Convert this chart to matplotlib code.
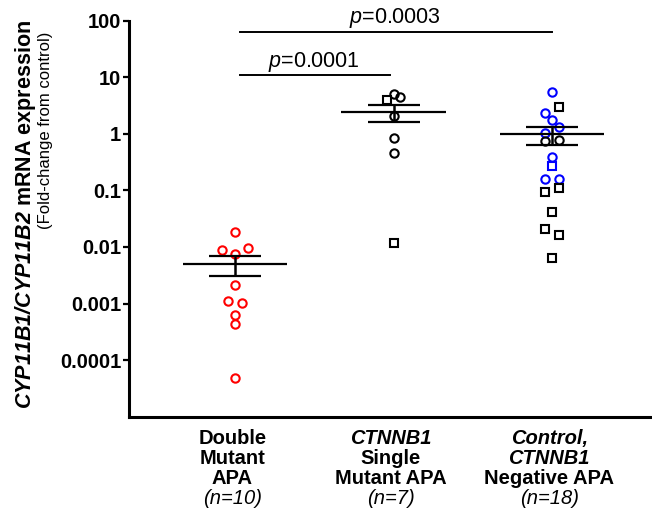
import numpy as np
import matplotlib
matplotlib.use("Agg")
import matplotlib.pyplot as plt
from matplotlib.ticker import NullLocator
import matplotlib.transforms as mtransforms

plt.rcParams['font.family'] = ['Liberation Sans', 'DejaVu Sans']
plt.rcParams['mathtext.fontset'] = 'custom'
plt.rcParams['mathtext.rm'] = 'Liberation Sans'
plt.rcParams['mathtext.it'] = 'Liberation Sans:italic'
plt.rcParams['mathtext.bf'] = 'Liberation Sans:bold'
plt.rcParams['mathtext.bfit'] = 'Liberation Sans:italic:bold'

# fold-change values
double_mut = [0.0181, 0.00881, 0.00740, 0.00944, 0.00212, 0.00112, 0.00101,
              0.000627, 0.000429, 0.0000477]
single_sq = [3.94, 0.0116]
single_circ = [5.02, 4.51, 2.05, 0.83, 0.461]
neg_blue_circ = [5.45, 2.29, 1.75, 1.04, 1.30, 0.383, 0.156, 0.156]
neg_black_circ = [0.734, 0.774]
neg_blue_sq = [0.269]
neg_black_sq = [2.93, 0.0922, 0.108, 0.0419, 0.0205, 0.0162, 0.0063]

yticks = [1e-4, 1e-3, 1e-2, 1e-1, 1, 10, 100]
ytick_labels = ['0.0001', '0.001', '0.01', '0.1', '1', '10', '100']

group_lines = [
    [("Double", 'bold', 'normal'), ("Mutant", 'bold', 'normal'),
     ("APA", 'bold', 'normal'), ("(n=10)", 'normal', 'italic')],
    [("CTNNB1", 'bold', 'italic'), ("Single", 'bold', 'normal'),
     ("Mutant APA", 'bold', 'normal'), ("(n=7)", 'normal', 'italic')],
    [("Control,", 'bold', 'italic'), ("CTNNB1", 'bold', 'italic'),
     ("Negative APA", 'bold', 'normal'), ("(n=18)", 'normal', 'italic')],
]


def swarm_offsets(vals, w=0.177, anchor=0.145, step=0.085):
    # GraphPad-like: bin points by height, spread each bin sideways
    vals = np.asarray(vals)
    k = np.floor((anchor - np.log10(vals)) / w)
    off = np.zeros(len(vals))
    for b in np.unique(k):
        idx = np.where(k == b)[0]
        off[idx] = (np.arange(len(idx)) - (len(idx) - 1) / 2) * step
    return off


fig = plt.figure(figsize=(6.52, 5.25), dpi=100)
ax = fig.add_axes([129 / 652, 1 - 416.7 / 525, 1 - 129 / 652, (416.7 - 20.5) / 525])

ms, mew = 6, 1.5
RED, BLUE = '#ff0000', '#0000ff'

# group 1
off = swarm_offsets(double_mut)
ax.plot(0 + off, double_mut, 'o', ms=ms, mew=mew, mfc='none', mec=RED, zorder=2)

# group 2
g2 = single_sq + single_circ
off = swarm_offsets(g2)
n = len(single_sq)
ax.plot(1 + off[:n], single_sq, 's', ms=ms, mew=mew, mfc='none', mec='black', zorder=2)
ax.plot(1 + off[n:], single_circ, 'o', ms=ms, mew=mew, mfc='none', mec='black', zorder=2)

# group 3
series3 = [(neg_blue_circ, 'o', BLUE), (neg_black_circ, 'o', 'black'),
           (neg_blue_sq, 's', BLUE), (neg_black_sq, 's', 'black')]
g3 = sum([s[0] for s in series3], [])
off = swarm_offsets(g3)
i = 0
for vals, mk, col in series3:
    ax.plot(2 + off[i:i + len(vals)], vals, mk, ms=ms, mew=mew, mfc='none', mec=col, zorder=2)
    i += len(vals)

# mean +/- SEM
for x, vals in enumerate([double_mut, g2, g3]):
    v = np.asarray(vals)
    m = v.mean()
    sem = v.std(ddof=1) / np.sqrt(len(v))
    ax.hlines(m, x - 0.331, x + 0.331, color='black', lw=1.6, zorder=3)
    ax.errorbar(x, m, yerr=sem, fmt='none', ecolor='black', elinewidth=1.8,
                capsize=19, capthick=1.6, zorder=3)

ax.set_yscale('log')
ax.set_ylim(1e-5, 100)
ax.set_xlim(-0.669, 2.631)
ax.set_yticks(yticks)
ax.set_yticklabels(ytick_labels, fontsize=14.5, fontweight='bold')
ax.yaxis.set_minor_locator(NullLocator())
ax.set_xticks([])
ax.tick_params(axis='y', length=4, width=1.6, pad=1.5)
for s in ['top', 'right']:
    ax.spines[s].set_visible(False)
for s in ['left', 'bottom']:
    ax.spines[s].set_linewidth(2.2)

# significance bars
ax.plot([0.03, 2.0], [63.4, 63.4], color='black', lw=1.4, clip_on=False)
ax.plot([0.03, 0.98], [10.8, 10.8], color='black', lw=1.4, clip_on=False)
ax.text(1.01, 91.5, r'$\mathit{p}$=0.0003', fontsize=15.5, ha='center', va='baseline', clip_on=False)
ax.text(0.5, 15.3, r'$\mathit{p}$=0.0001', fontsize=15.5, ha='center', va='baseline', clip_on=False)

# group labels below the axis
trans = mtransforms.blended_transform_factory(ax.transData, ax.transAxes)
for x, lines in enumerate(group_lines):
    for j, (txt, wt, st) in enumerate(lines):
        ax.annotate(txt, xy=(x, 0), xycoords=trans, xytext=(-2, -20 - 14.2 * j),
                    textcoords='offset points', ha='center', va='baseline',
                    fontsize=14.5, fontweight=wt, fontstyle=st, annotation_clip=False)

# y axis title
fig.text(26 / 652, 1 - 214 / 525,
         r'$\mathbfit{CYP11B1/CYP11B2}\ \mathbf{mRNA\ expression}$',
         rotation=90, ha='center', va='center', fontsize=15.5)
fig.text(46 / 652, 1 - 130 / 525, '(Fold-change from control)',
         rotation=90, ha='center', va='center', fontsize=12)

fig.savefig('out.png', dpi=100)
